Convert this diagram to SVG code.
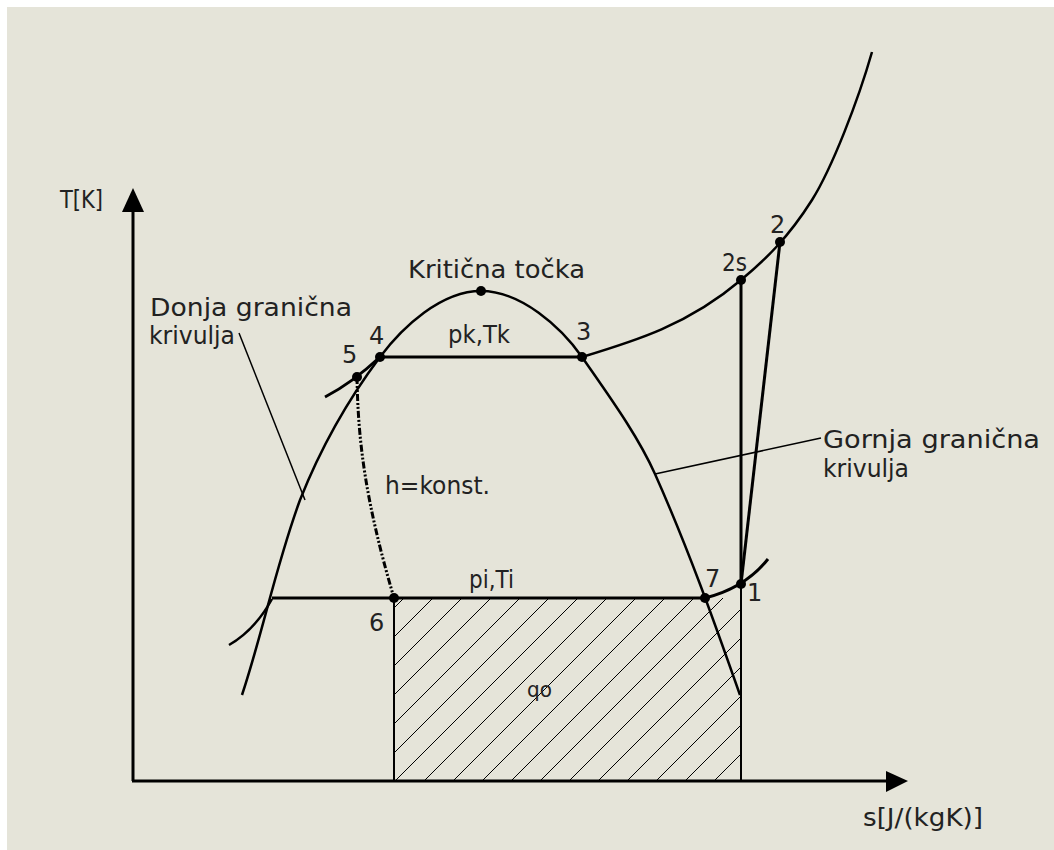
<svg xmlns="http://www.w3.org/2000/svg" width="1054" height="850" viewBox="0 0 1054 850">
<style>
.bg{fill:#E5E4D9}
.ax{stroke:#000;stroke-width:3;fill:none}
.curve{stroke:#000;stroke-width:2.5;fill:none}
.thick{stroke:#000;stroke-width:3;fill:none}
.thin{stroke:#000;stroke-width:2;fill:none}
.lead{stroke:#000;stroke-width:1.5;fill:none}
.hatch{stroke:#000;stroke-width:1;fill:none}
.dashdot{stroke:#000;stroke-width:3;fill:none;stroke-dasharray:7 2 2 2 2 2}
.dot{fill:#000}
.arrow{fill:#000}
text{font-family:"DejaVu Sans","Liberation Sans",sans-serif;font-size:24px;fill:#222}
</style>
<defs>
<clipPath id="hclip"><rect x="394" y="598" width="347" height="183"/></clipPath>
</defs>
<rect class="bg" x="7" y="7" width="1047" height="843"/>

<g id="hatch-area">
<g clip-path="url(#hclip)">
<line class="hatch" x1="221" y1="781" x2="404" y2="598"/>
<line class="hatch" x1="250" y1="781" x2="433" y2="598"/>
<line class="hatch" x1="279" y1="781" x2="462" y2="598"/>
<line class="hatch" x1="308" y1="781" x2="491" y2="598"/>
<line class="hatch" x1="337" y1="781" x2="520" y2="598"/>
<line class="hatch" x1="366" y1="781" x2="549" y2="598"/>
<line class="hatch" x1="395" y1="781" x2="578" y2="598"/>
<line class="hatch" x1="424" y1="781" x2="607" y2="598"/>
<line class="hatch" x1="453" y1="781" x2="636" y2="598"/>
<line class="hatch" x1="482" y1="781" x2="665" y2="598"/>
<line class="hatch" x1="511" y1="781" x2="694" y2="598"/>
<line class="hatch" x1="540" y1="781" x2="723" y2="598"/>
<line class="hatch" x1="569" y1="781" x2="752" y2="598"/>
<line class="hatch" x1="598" y1="781" x2="781" y2="598"/>
<line class="hatch" x1="627" y1="781" x2="810" y2="598"/>
<line class="hatch" x1="656" y1="781" x2="839" y2="598"/>
<line class="hatch" x1="685" y1="781" x2="868" y2="598"/>
<line class="hatch" x1="714" y1="781" x2="897" y2="598"/>
</g>
<line class="thin" x1="394" y1="598" x2="394" y2="781"/>
<line class="thin" x1="741" y1="584" x2="741" y2="781"/>
<text x="527" y="697" style="font-size:22px" textLength="25" lengthAdjust="spacingAndGlyphs">qo</text>
</g>

<g id="connectors">
<line class="ax" x1="133" y1="781" x2="133" y2="208"/>
<line class="ax" x1="132" y1="781" x2="892" y2="781"/>
<polygon class="arrow" points="133,188 144,212 122,212"/>
<polygon class="arrow" points="908,781 886,771 886,792"/>
<path class="curve" d="M242 695 C263.5 630 276 565 300 500 C319 452 344 405 380 357 C402.5 327 441 291 481 291 C521 291 561 327 582 357 C609 396 637.5 435 655 474 C688 548 714 621 740 695"/>
<path class="curve" d="M582 357 C635 341 688 325 741 280 C765 260 788 238 812 200 C832 168 858 101 872 52"/>
<path class="thick" d="M325 397 Q352 383 380 357"/>
<path class="curve" d="M229 645 Q255 630 272 599"/>
<path class="thick" d="M705 598 Q745 588 768 559"/>
<line class="thick" x1="380" y1="357" x2="582" y2="357"/>
<line class="thick" x1="272" y1="598" x2="705" y2="598"/>
<line class="thick" x1="741" y1="584" x2="741" y2="280"/>
<line class="thick" x1="741" y1="584" x2="780" y2="242"/>
<path class="dashdot" d="M357 377 C358 440 365 500 394 598"/>
<line class="lead" x1="239" y1="333" x2="305" y2="500"/>
<line class="lead" x1="655" y1="474" x2="821" y2="438"/>
</g>

<g id="axis-T"><text x="60" y="208" textLength="43" lengthAdjust="spacingAndGlyphs">T[K]</text></g>
<g id="axis-s"><text x="863" y="826" textLength="120" lengthAdjust="spacingAndGlyphs">s[J/(kgK)]</text></g>
<g id="critical-point"><circle class="dot" cx="481" cy="291" r="5"/><text x="408" y="278" textLength="177" lengthAdjust="spacingAndGlyphs">Kritična točka</text></g>
<g id="label-donja"><text x="150" y="316" textLength="202" lengthAdjust="spacingAndGlyphs">Donja granična</text><text x="149" y="344" textLength="86" lengthAdjust="spacingAndGlyphs">krivulja</text></g>
<g id="label-gornja"><text x="823" y="448" textLength="217" lengthAdjust="spacingAndGlyphs">Gornja granična</text><text x="823" y="477" textLength="86" lengthAdjust="spacingAndGlyphs">krivulja</text></g>
<g id="point-4"><circle class="dot" cx="380" cy="357" r="5"/><text x="369" y="344">4</text></g>
<g id="point-5"><circle class="dot" cx="357" cy="377" r="5"/><text x="342" y="363">5</text></g>
<g id="point-3"><circle class="dot" cx="582" cy="357" r="5"/><text x="576" y="340">3</text></g>
<g id="point-2s"><circle class="dot" cx="741" cy="280" r="5"/><text x="722" y="271" textLength="25" lengthAdjust="spacingAndGlyphs">2s</text></g>
<g id="point-2"><circle class="dot" cx="780" cy="242" r="5"/><text x="770" y="233">2</text></g>
<g id="point-7"><circle class="dot" cx="705" cy="598" r="5"/><text x="705" y="587">7</text></g>
<g id="point-1"><circle class="dot" cx="741" cy="584" r="5"/><text x="747" y="601">1</text></g>
<g id="point-6"><circle class="dot" cx="394" cy="598" r="5"/><text x="369" y="631">6</text></g>
<g id="label-pk"><text x="448" y="343" textLength="62" lengthAdjust="spacingAndGlyphs">pk,Tk</text></g>
<g id="label-pi"><text x="469" y="588" textLength="45" lengthAdjust="spacingAndGlyphs">pi,Ti</text></g>
<g id="label-h"><text x="385" y="494" textLength="105" lengthAdjust="spacingAndGlyphs">h=konst.</text></g>
</svg>
